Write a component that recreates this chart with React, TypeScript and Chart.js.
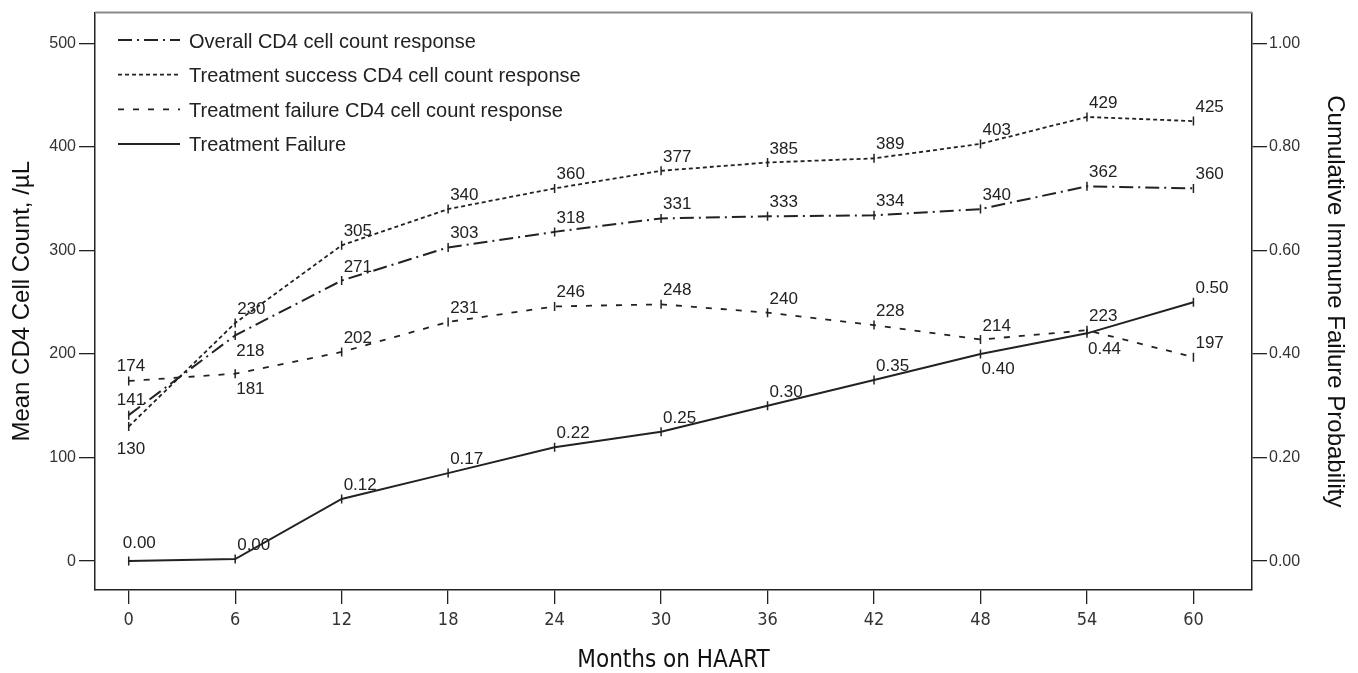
import React, { useEffect, useRef } from "react";
import { Chart, registerables } from "chart.js";

Chart.register(...registerables);

// ---- data ----
const months = [0, 6, 12, 18, 24, 30, 36, 42, 48, 54, 60];
const overallCD4 = [141, 218, 271, 303, 318, 331, 333, 334, 340, 362, 360];
const successCD4 = [130, 230, 305, 340, 360, 377, 385, 389, 403, 429, 425];
const failureCD4 = [174, 181, 202, 231, 246, 248, 240, 228, 214, 223, 197];
const failureProb = [0.0, 0.004, 0.12, 0.17, 0.22, 0.25, 0.3, 0.35, 0.4, 0.44, 0.5];

const xTicks = [0, 6, 12, 18, 24, 30, 36, 42, 48, 54, 60];
const leftTicks = [0, 100, 200, 300, 400, 500];
const rightTicks = [0, 0.2, 0.4, 0.6, 0.8, 1.0];

const seriesNames = [
  "Overall CD4 cell count response",
  "Treatment success CD4 cell count response",
  "Treatment failure CD4 cell count response",
  "Treatment Failure",
];

// ---- label placement (style) ----
const placeOverall = ["ul", "dr", "ur", "ur", "ur", "ur", "ur", "ur", "ur", "ur", "ur"];
const placeSuccess = ["dl", "ur", "ur", "ur", "ur", "ur", "ur", "ur", "ur", "ur", "ur"];
const placeFailCD4 = ["ul", "dr", "ur", "ur", "ur", "ur", "ur", "ur", "ur", "ur", "ur"];
const placeProb = ["um", "ur", "ur", "ur", "ur", "ur", "ur", "ur", "dr", "dr", "ur"];

const SANS = '"Liberation Sans", Arial, Helvetica, sans-serif';
const NARROW = '"Liberation Sans Narrow", "DejaVu Sans Condensed", "Arial Narrow", sans-serif';
const INK = "#222";

const toXY = (vals: number[]) => months.map((m, i) => ({ x: m, y: vals[i] }));

const pointLabelPlugin = {
  id: "pointLabels",
  afterDatasetsDraw(chart: any) {
    const ctx = chart.ctx;
    ctx.save();
    ctx.font = `17px ${SANS}`;
    ctx.fillStyle = INK;
    ctx.textAlign = "left";
    chart.data.datasets.forEach((ds: any, di: number) => {
      const meta = chart.getDatasetMeta(di);
      meta.data.forEach((pt: any, i: number) => {
        const v = ds.data[i].y;
        const txt = ds.decimals ? v.toFixed(ds.decimals) : String(v);
        const p = ds.places[i];
        let x = pt.x + 2;
        let y = pt.y - 9;
        ctx.textBaseline = "alphabetic";
        if (p === "dr") {
          x = pt.x + 1;
          y = pt.y + 7;
          ctx.textBaseline = "top";
        } else if (p === "ul") {
          x = pt.x - 12;
          y = pt.y - 10;
        } else if (p === "dl") {
          x = pt.x - 12;
          y = pt.y + 14;
          ctx.textBaseline = "top";
        } else if (p === "um") {
          x = pt.x - 6;
          y = pt.y - 13;
        }
        ctx.fillText(txt, x, y);
      });
    });
    ctx.restore();
  },
};

const framePlugin = {
  id: "frame",
  afterDraw(chart: any) {
    const { ctx, chartArea } = chart;
    ctx.save();
    ctx.strokeStyle = "#8a8a8a";
    ctx.lineWidth = 2;
    ctx.beginPath();
    ctx.moveTo(chartArea.left, chartArea.top);
    ctx.lineTo(chartArea.right, chartArea.top);
    ctx.stroke();
    ctx.restore();
  },
};

const legendPlugin = {
  id: "customLegend",
  afterDraw(chart: any) {
    const { ctx, chartArea } = chart;
    const x0 = chartArea.left + 23;
    const x1 = chartArea.left + 85;
    const tx = chartArea.left + 94;
    chart.data.datasets.forEach((ds: any, i: number) => {
      const y = chartArea.top + 27.5 + i * 34.6;
      ctx.save();
      ctx.strokeStyle = ds.borderColor;
      ctx.lineWidth = ds.borderWidth;
      ctx.setLineDash(ds.borderDash || []);
      ctx.beginPath();
      ctx.moveTo(x0, y);
      ctx.lineTo(x1, y);
      ctx.stroke();
      ctx.setLineDash([]);
      ctx.font = `20px ${SANS}`;
      ctx.fillStyle = INK;
      ctx.textAlign = "left";
      ctx.textBaseline = "alphabetic";
      ctx.fillText(ds.label, tx, y + 7.5);
      ctx.restore();
    });
  },
};

const common = {
  fill: false,
  tension: 0,
  borderColor: INK,
  pointStyle: "line",
  pointRotation: 90,
  pointRadius: 4.5,
  pointBorderWidth: 1.5,
  pointBorderColor: INK,
  pointBackgroundColor: INK,
};

export default function App() {
  const ref = useRef<HTMLCanvasElement | null>(null);

  useEffect(() => {
    if (!ref.current) return;
    const chart = new Chart(ref.current, {
      type: "line",
      data: {
        datasets: [
          {
            ...common,
            label: seriesNames[0],
            data: toXY(overallCD4),
            yAxisID: "yL",
            borderWidth: 2,
            borderDash: [14, 5, 2, 5],
            places: placeOverall,
          } as any,
          {
            ...common,
            label: seriesNames[1],
            data: toXY(successCD4),
            yAxisID: "yL",
            borderWidth: 1.8,
            borderDash: [4, 3],
            places: placeSuccess,
          } as any,
          {
            ...common,
            label: seriesNames[2],
            data: toXY(failureCD4),
            yAxisID: "yL",
            borderWidth: 1.8,
            borderDash: [6, 9],
            places: placeFailCD4,
          } as any,
          {
            ...common,
            label: seriesNames[3],
            data: toXY(failureProb),
            yAxisID: "yR",
            borderWidth: 2,
            borderDash: [],
            places: placeProb,
            decimals: 2,
          } as any,
        ],
      },
      options: {
        responsive: false,
        animation: false,
        layout: { padding: { top: 10, left: 0, right: 0, bottom: 0 } },
        plugins: {
          legend: { display: false },
          tooltip: { enabled: false },
        },
        scales: {
          x: {
            type: "linear",
            min: -1.9,
            max: 63.3,
            afterBuildTicks: (s: any) => {
              s.ticks = xTicks.map((v) => ({ value: v }));
            },
            afterFit: (s: any) => {
              s.height = 83;
            },
            grid: {
              display: true,
              drawOnChartArea: false,
              drawTicks: true,
              tickLength: 14,
              color: INK,
              lineWidth: 1.3,
            },
            border: { display: true, color: INK, width: 1.5 },
            ticks: {
              font: { family: NARROW, size: 18 },
              color: "#333",
              padding: 6,
              maxRotation: 0,
              autoSkip: false,
              callback: (v: any) => String(v),
            },
            title: {
              display: true,
              text: "Months on HAART",
              font: { family: NARROW, size: 24, lineHeight: 1 },
              color: "#111",
              padding: { top: 0, bottom: 0 },
            },
          },
          yL: {
            type: "linear",
            position: "left",
            min: -27.9,
            max: 529.8,
            afterBuildTicks: (s: any) => {
              s.ticks = leftTicks.map((v) => ({ value: v }));
            },
            afterFit: (s: any) => {
              s.width = 95;
            },
            grid: {
              display: true,
              drawOnChartArea: false,
              drawTicks: true,
              tickLength: 16,
              color: INK,
              lineWidth: 1.3,
            },
            border: { display: true, color: INK, width: 1.5 },
            ticks: {
              font: { family: SANS, size: 16 },
              color: "#333",
              padding: 3,
              callback: (v: any) => String(v),
            },
            title: {
              display: true,
              text: "Mean CD4 Cell Count, /\u00b5L",
              font: { family: SANS, size: 24, lineHeight: 1.2 },
              color: "#111",
              padding: { top: 8, bottom: 0 },
            },
          },
          yR: {
            type: "linear",
            position: "right",
            min: -0.0558,
            max: 1.0596,
            afterBuildTicks: (s: any) => {
              s.ticks = rightTicks.map((v) => ({ value: v }));
            },
            afterFit: (s: any) => {
              s.width = 106;
            },
            grid: {
              display: true,
              drawOnChartArea: false,
              drawTicks: true,
              tickLength: 15,
              color: INK,
              lineWidth: 1.3,
            },
            border: { display: true, color: INK, width: 1.5 },
            ticks: {
              font: { family: SANS, size: 16 },
              color: "#333",
              padding: 2,
              callback: (v: any) => Number(v).toFixed(2),
            },
            title: {
              display: true,
              text: "Cumulative Immune Failure Probability",
              font: { family: SANS, size: 24, lineHeight: 1.2 },
              color: "#111",
              padding: { top: 9, bottom: 0 },
            },
          },
        },
      } as any,
      plugins: [pointLabelPlugin, framePlugin, legendPlugin],
    });
    return () => chart.destroy();
  }, []);

  return (
    <div style={{ position: "fixed", left: 0, top: 0, width: 1358, height: 673, background: "#fff" }}>
      <canvas ref={ref} width={1358} height={673} />
    </div>
  );
}
